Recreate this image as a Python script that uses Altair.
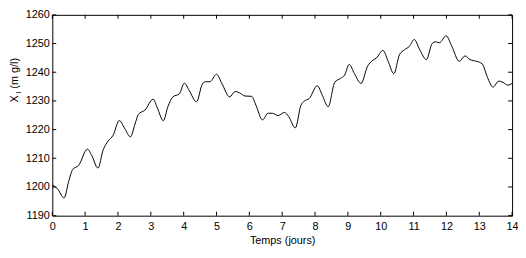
import altair as alt
import pandas as pd

# Data
t_days = [0, 0.15, 0.36, 0.5, 0.62, 0.8, 1.07, 1.2, 1.39, 1.55, 1.7, 1.85, 2.04, 2.2, 2.38,
          2.52, 2.62, 2.82, 3.07, 3.2, 3.38, 3.52, 3.67, 3.87, 4.02, 4.17, 4.39, 4.57, 4.67,
          4.8, 5.0, 5.17, 5.4, 5.57, 5.7, 5.87, 6.07, 6.2, 6.4, 6.57, 6.7, 6.87, 7.07, 7.2,
          7.4, 7.57, 7.67, 7.82, 8.07, 8.22, 8.4, 8.6, 8.77, 8.9, 9.04, 9.2, 9.4, 9.6, 9.74,
          9.87, 10.07, 10.22, 10.4, 10.57, 10.72, 10.87, 11.02, 11.19, 11.39, 11.57, 11.67,
          11.79, 11.99, 12.17, 12.39, 12.57, 12.72, 12.92, 13.09, 13.25, 13.42, 13.59, 13.72,
          13.87, 14.0]
xl_values = [1200.7, 1199.5, 1196.2, 1202.0, 1206.1, 1207.5, 1213.2, 1211, 1206.6, 1213, 1216,
             1218, 1223.2, 1220.5, 1217.5, 1222, 1225.3, 1226.8, 1230.6, 1227.5, 1223.1, 1228,
             1231.4, 1232.5, 1236.2, 1233.6, 1229.7, 1235.9, 1236.7, 1236.7, 1239.3, 1235.9,
             1231.4, 1233.3, 1232.8, 1231.7, 1231.6, 1228.5, 1223.4, 1225.7, 1225.7, 1224.9,
             1226, 1224.5, 1220.6, 1228.5, 1229.9, 1230.8, 1235.3, 1232, 1228, 1236.5, 1237.8,
             1239, 1242.7, 1239.5, 1236.1, 1242.1, 1244, 1245, 1247.6, 1244, 1239.5, 1246.1,
             1247.8, 1249, 1251.4, 1247.8, 1244.4, 1250.1, 1250.6, 1250.3, 1252.7, 1248.9,
             1243.8, 1245.7, 1244.4, 1243.8, 1242.9, 1238.2, 1234.8, 1236.9, 1236.5, 1235.5,
             1236.1]
x_ticks = list(range(0, 15))
y_ticks = [1190, 1200, 1210, 1220, 1230, 1240, 1250, 1260]

W, H = 467, 204
FONT = "Liberation Sans"
FS = 11

df = pd.DataFrame({"t": t_days, "v": xl_values})
xt = pd.DataFrame({"t": x_ticks})
yt = pd.DataFrame({"v": y_ticks})

xscale = alt.Scale(domain=[0, 14], nice=False, zero=False)
yscale = alt.Scale(domain=[1190, 1260], nice=False, zero=False)

xaxis = alt.Axis(values=x_ticks, format="d", labelOverlap=False, labelFlush=False,
                 ticks=False, domain=False, grid=False,
                 labelFont=FONT, labelFontSize=FS, labelColor="black",
                 labelPadding=5, title="Temps (jours)", titleFont=FONT,
                 titleFontSize=FS, titleFontWeight="normal", titleColor="black",
                 titlePadding=3)
yaxis = alt.Axis(values=y_ticks, format="d", labelOverlap=False, labelFlush=False,
                 ticks=False, domain=False, grid=False,
                 labelFont=FONT, labelFontSize=FS, labelColor="black",
                 labelPadding=3, title=None)

line = alt.Chart(df).mark_line(color="black", strokeWidth=1, interpolate="monotone").encode(
    x=alt.X("t:Q", scale=xscale, axis=xaxis),
    y=alt.Y("v:Q", scale=yscale, axis=yaxis),
)

tick_len = 4
top_ticks = alt.Chart(xt).mark_rule(color="black", strokeWidth=1).encode(
    x=alt.X("t:Q", scale=xscale, axis=xaxis), y=alt.value(0), y2=alt.value(tick_len))
bot_ticks = alt.Chart(xt).mark_rule(color="black", strokeWidth=1).encode(
    x=alt.X("t:Q", scale=xscale, axis=xaxis), y=alt.value(H), y2=alt.value(H - tick_len))
left_ticks = alt.Chart(yt).mark_rule(color="black", strokeWidth=1).encode(
    y=alt.Y("v:Q", scale=yscale, axis=yaxis), x=alt.value(0), x2=alt.value(tick_len))
right_ticks = alt.Chart(yt).mark_rule(color="black", strokeWidth=1).encode(
    y=alt.Y("v:Q", scale=yscale, axis=yaxis), x=alt.value(W), x2=alt.value(W - tick_len))

title_x = alt.Chart(pd.DataFrame({"s": ["X"]})).mark_text(
    angle=270, align="left", baseline="alphabetic", font=FONT, fontSize=11, color="black"
).encode(text="s:N", x=alt.value(-35), y=alt.value(89))
title_sub = alt.Chart(pd.DataFrame({"s": ["l"]})).mark_text(
    angle=270, align="left", baseline="alphabetic", font=FONT, fontSize=8, color="black"
).encode(text="s:N", x=alt.value(-32), y=alt.value(80))
title_rest = alt.Chart(pd.DataFrame({"s": ["(m g/l)"]})).mark_text(
    angle=270, align="left", baseline="alphabetic", font=FONT, fontSize=11, color="black"
).encode(text="s:N", x=alt.value(-35), y=alt.value(75))

chart = alt.layer(line, top_ticks, bot_ticks, left_ticks, right_ticks,
                  title_x, title_sub, title_rest).properties(
    width=W, height=H, autosize="none",
    padding={"left": 45, "top": 5, "right": 6, "bottom": 40},
    background="white",
).configure_view(stroke="black", strokeWidth=1)

chart.save("out.html", embed_options={"renderer": "svg", "actions": False})
